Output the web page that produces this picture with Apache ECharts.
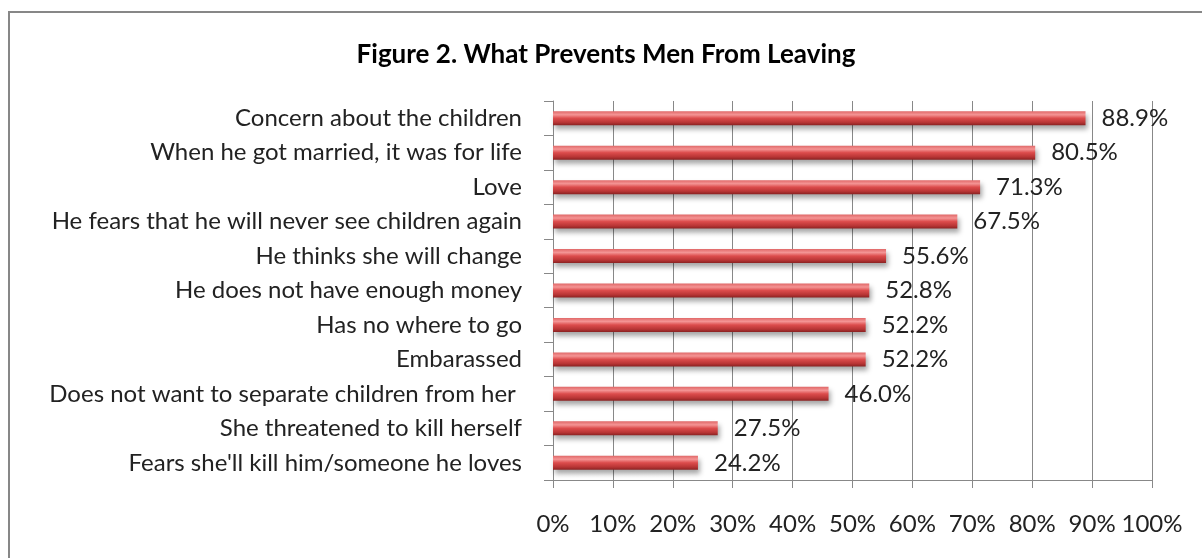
<!DOCTYPE html>
<html>
<head>
<meta charset="utf-8">
<script src="https://cdn.jsdelivr.net/npm/echarts@6/dist/echarts.min.js"></script>
<style>
html,body{margin:0;padding:0;background:#fff;}
#chart{width:1202px;height:558px;}
</style>
</head>
<body>
<div id="chart"></div>
<script>
const categories = [
  "Concern about the children",
  "When he got married, it was for life",
  "Love",
  "He fears that he will never see children again",
  "He thinks she will change",
  "He does not have enough money",
  "Has no where to go",
  "Embarassed",
  "Does not want to separate children from her ",
  "She threatened to kill herself",
  "Fears she'll kill him/someone he loves"
];
const values = [88.9, 80.5, 71.3, 67.5, 55.6, 52.8, 52.2, 52.2, 46.0, 27.5, 24.2];
const titleText = "Figure 2. What Prevents Men From Leaving";

const FONT = "Lato";
const chart = echarts.init(document.getElementById('chart'));
chart.setOption({
  animation: false,
  backgroundColor: '#ffffff',
  title: {
    text: titleText,
    left: 601, top: 37, textAlign: 'center',
    textStyle: {fontFamily: FONT, fontWeight: 'bold', fontSize: 26, color: '#000'}
  },
  graphic: [{
    type: 'rect', silent: true,
    shape: {x: 9, y: 12, width: 1200, height: 560},
    style: {fill: 'none', stroke: '#878787', lineWidth: 2}
  }],
  grid: {left: 553, right: 50, top: 101, bottom: 78, containLabel: false},
  xAxis: {
    type: 'value', min: 0, max: 100, interval: 10,
    axisLine: {show: true, lineStyle: {color: '#888', width: 1}},
    axisTick: {show: true, length: 8, lineStyle: {color: '#888'}},
    splitLine: {show: true, lineStyle: {color: '#888', width: 1}},
    axisLabel: {formatter: '{value}%', fontFamily: FONT, fontSize: 24, color: '#222', margin: 32}
  },
  yAxis: {
    type: 'category', inverse: true, data: categories,
    axisLine: {show: true, lineStyle: {color: '#888', width: 1}},
    axisTick: {show: true, length: 9, lineStyle: {color: '#888'}},
    axisLabel: {fontFamily: FONT, fontSize: 24, color: '#222', margin: 31}
  },
  series: [{
    type: 'bar', data: values, barWidth: 14,
    itemStyle: {
      color: new echarts.graphic.LinearGradient(0, 0, 0, 1, [
        {offset: 0, color: '#e06868'},
        {offset: 0.25, color: '#f49494'},
        {offset: 0.5, color: '#dc4c4c'},
        {offset: 0.8, color: '#b83535'},
        {offset: 1, color: '#8a2222'}
      ]),
      shadowColor: 'rgba(0,0,0,0.35)', shadowBlur: 5, shadowOffsetX: 2, shadowOffsetY: 4
    },
    label: {
      show: true, position: 'right', distance: 16,
      formatter: p => p.value.toFixed(1) + '%',
      fontFamily: FONT, fontSize: 24, color: '#222'
    }
  }]
});
</script>
</body>
</html>
